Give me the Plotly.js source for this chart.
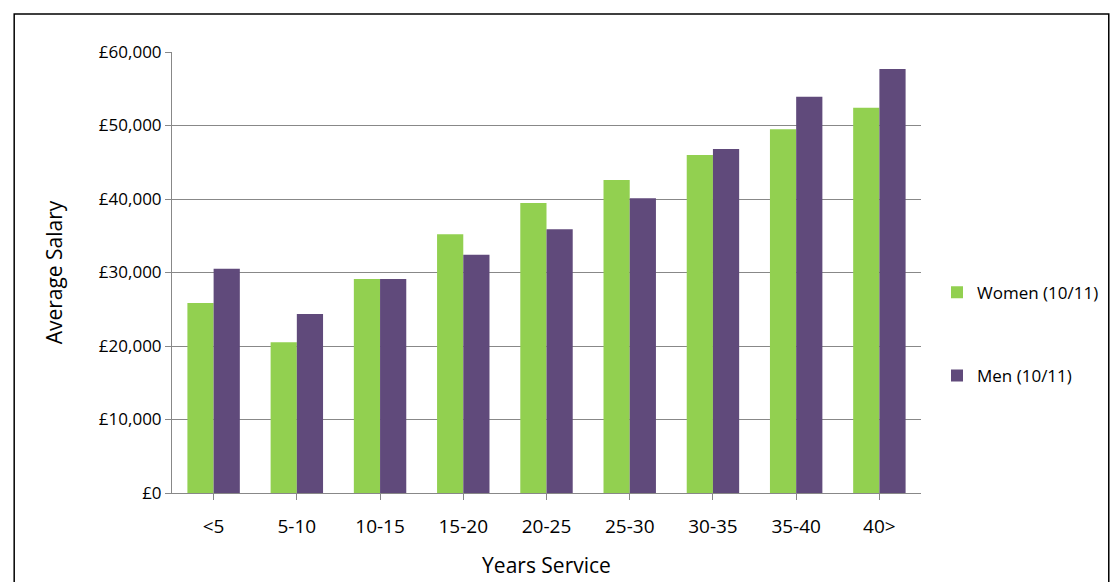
<!DOCTYPE html>
<html><head><script src="https://cdn.plot.ly/plotly-3.0.1.min.js"></script>
<style>body{margin:0}#c{width:1115px;height:582px}</style></head>
<body><div id="c"></div>
<script>
const categories=["<5","5-10","10-15","15-20","20-25","25-30","30-35","35-40","40>"];
const women=[25850,20500,29100,35200,39450,42600,46000,49500,52400];
const men=[30500,24350,29100,32400,35900,40100,46800,53900,57700];
const f={family:"Open Sans, sans-serif",size:17,color:"#000"};
Plotly.newPlot("c",[
 {type:"bar",name:"Women (10/11)",x:categories,y:women,marker:{color:"#92d050"},legendgroup:"a"},
 {type:"bar",name:"Men (10/11)",x:categories,y:men,marker:{color:"#604a7b"},legendgroup:"b"}
],{
 width:1115,height:582,margin:{l:172,r:193,t:52,b:89},
 paper_bgcolor:"#fff",plot_bgcolor:"#fff",font:f,
 bargap:0.37,bargroupgap:0,
 xaxis:{showline:true,linecolor:"#888",ticks:"outside",ticklen:6,tickcolor:"#888",ticklabelstandoff:10,
   title:{text:"Years Service",font:{size:21},standoff:20},tickfont:{size:19}},
 yaxis:{range:[0,60000],dtick:10000,tickprefix:"£",tickformat:",d",gridcolor:"#888",
   showline:true,linecolor:"#888",ticks:"outside",ticklen:6,tickcolor:"#888",
   title:{text:"Average Salary",font:{size:21},standoff:30},tickfont:{size:17}},
 legend:{x:1.02,y:0.36,yanchor:"middle",tracegroupgap:58,font:{size:17}},
 shapes:[{type:"rect",xref:"paper",yref:"paper",x0:-0.2107,x1:1.2507,y0:-0.3,y1:1.086,line:{color:"#000",width:1.5}}]
},{displayModeBar:false});
</script></body></html>
